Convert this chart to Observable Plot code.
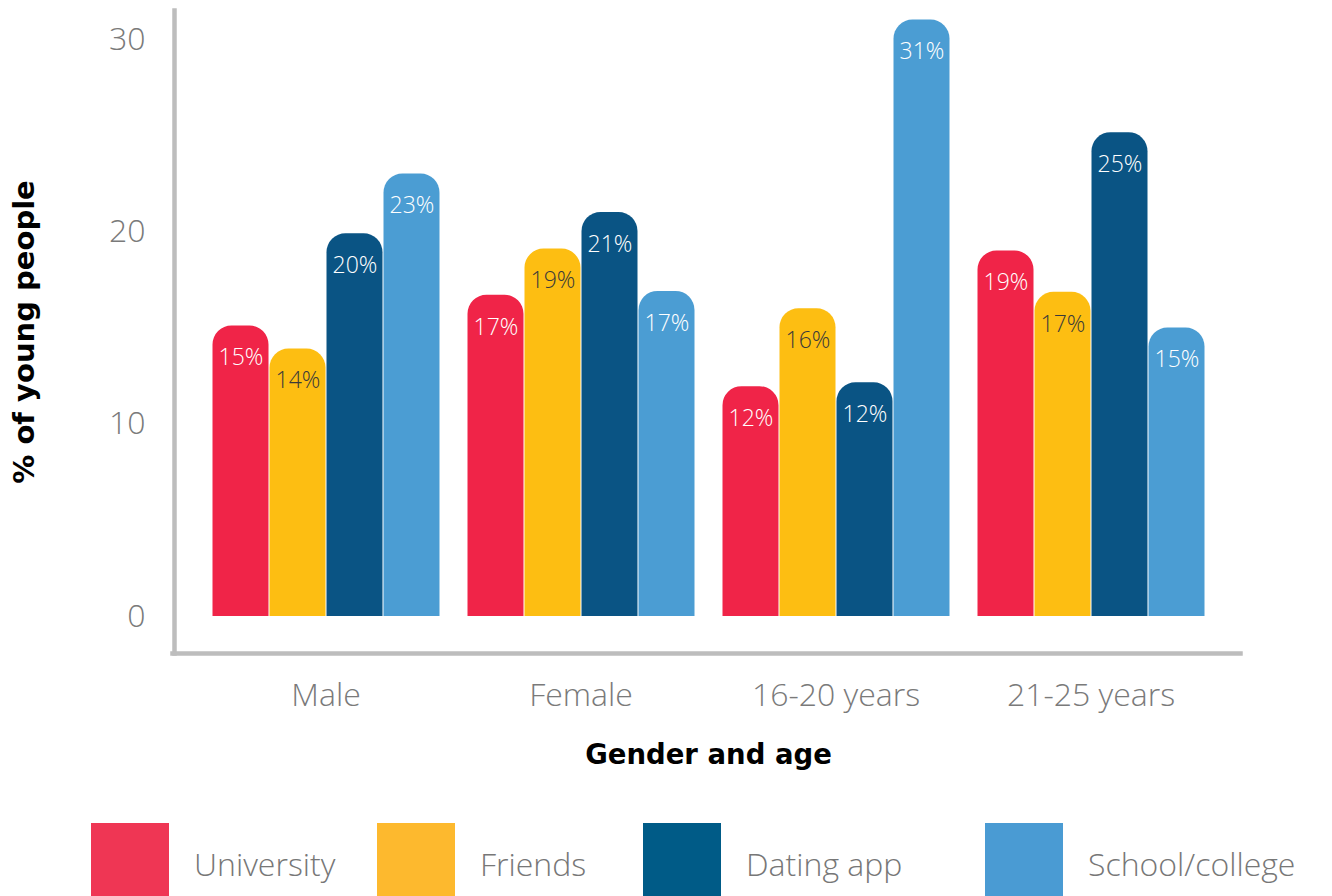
<!DOCTYPE html>
<html><head><meta charset="utf-8">
<script src="https://cdn.jsdelivr.net/npm/d3@7"></script>
<script src="https://cdn.jsdelivr.net/npm/@observablehq/plot@0.6"></script>
<style>
html,body{margin:0;padding:0;background:#fff;overflow:hidden}
#chart{width:1332px}
.legend{display:grid;grid-template-columns:286px 266px 342px auto;align-items:center;margin-top:33px;padding-left:91px;font-family:"Open Sans";font-weight:300;font-size:32px;color:#777;white-space:nowrap}
.item{display:flex;align-items:center}
.sw{width:78px;height:80px;margin-right:25px;flex:none}
</style></head><body><div id="chart"></div>
<script>
const groups = ["Male", "Female", "16-20 years", "21-25 years"];
const series = ["University", "Friends", "Dating app", "School/college"];
const university = [15.1, 16.7, 11.95, 19.0];
const friends = [13.9, 19.1, 16.0, 16.85];
const datingApp = [19.9, 21.0, 12.15, 25.15];
const schoolCollege = [23.0, 16.9, 31.0, 15.0];
const yTicks = [0, 10, 20, 30];
const barColors = ["#f02448", "#fdbe12", "#0a5484", "#4b9dd3"];
const legendColors = ["#ef3654", "#fdb92e", "#005b87", "#4a9bd3"];
const yTitle = "% of young people";
const xTitle = "Gender and age";

const seriesValues = [university, friends, datingApp, schoolCollege];
const data = groups.flatMap((g, i) => series.map((s, j) => ({group: g, series: s, value: seriesValues[j][i]})));

const thin = {fontFamily: "Open Sans", fontWeight: 300};
const bold = {fontFamily: "DejaVu Sans", fontWeight: "bold", fill: "#000"};
let plot;
try {
plot = Plot.plot({
  width: 1332, height: 790,
  marginLeft: 173, marginRight: 90, marginTop: 10, marginBottom: 137,
  fx: {domain: groups, paddingInner: 0.103, paddingOuter: 0.145, axis: null},
  x: {domain: series, padding: 0, axis: null},
  y: {domain: [-1.92, 31.5], axis: null},
  color: {domain: series, range: barColors},
  style: {fontFamily: "Open Sans", background: "#fff", overflow: "visible"},
  marks: [
    Plot.barY(data, {fx: "group", x: "series", y: "value", fill: "series", ry1: 19, insetLeft: 0.5, insetRight: 0.5}),
    Plot.text(data.filter(d => d.series !== "Friends"), {fx: "group", x: "series", y: "value", dy: 32, text: d => Math.round(d.value) + "%", fill: "#fff", fontSize: 23, ...thin}),
    Plot.text(data.filter(d => d.series === "Friends"), {fx: "group", x: "series", y: "value", dy: 32, text: d => Math.round(d.value) + "%", fill: "#3a3a3a", fontSize: 23, ...thin}),
    Plot.axisY({ticks: yTicks, tickSize: 0, tickPadding: 66, label: null, fontSize: 32, fill: "#7a7a7a", ...thin}),
    Plot.axisY({ticks: [], tickSize: 0, label: yTitle, labelAnchor: "center", labelArrow: "none", labelOffset: 198, fontSize: 29, ...bold}),
    Plot.axisFx({anchor: "bottom", tickSize: 0, tickPadding: 30, label: null, fontSize: 32, fill: "#7a7a7a", ...thin}),
    Plot.axisFx({anchor: "bottom", ticks: [], tickSize: 0, label: xTitle, labelAnchor: "center", labelArrow: "none", labelOffset: 110, fontSize: 27.5, ...bold}),
    Plot.frame({facet: "super", anchor: "left", stroke: "#bdbdbd", strokeWidth: 4.5, insetLeft: -37}),
    Plot.frame({facet: "super", anchor: "bottom", stroke: "#bdbdbd", strokeWidth: 4.5, insetLeft: -39, insetRight: -35})
  ]
});
document.getElementById("chart").append(plot);
} catch (e) {
  const p = document.createElement("pre"); p.textContent = "ERR " + Plot.version + " " + e.stack; document.body.append(p);
}

const legend = document.createElement("div");
legend.className = "legend";
series.forEach((s, i) => {
  const item = document.createElement("div"); item.className = "item";
  const sw = document.createElement("div"); sw.className = "sw"; sw.style.background = legendColors[i];
  const t = document.createElement("span"); t.textContent = s;
  item.append(sw, t); legend.append(item);
});
document.body.append(legend);
</script>
</body></html>
